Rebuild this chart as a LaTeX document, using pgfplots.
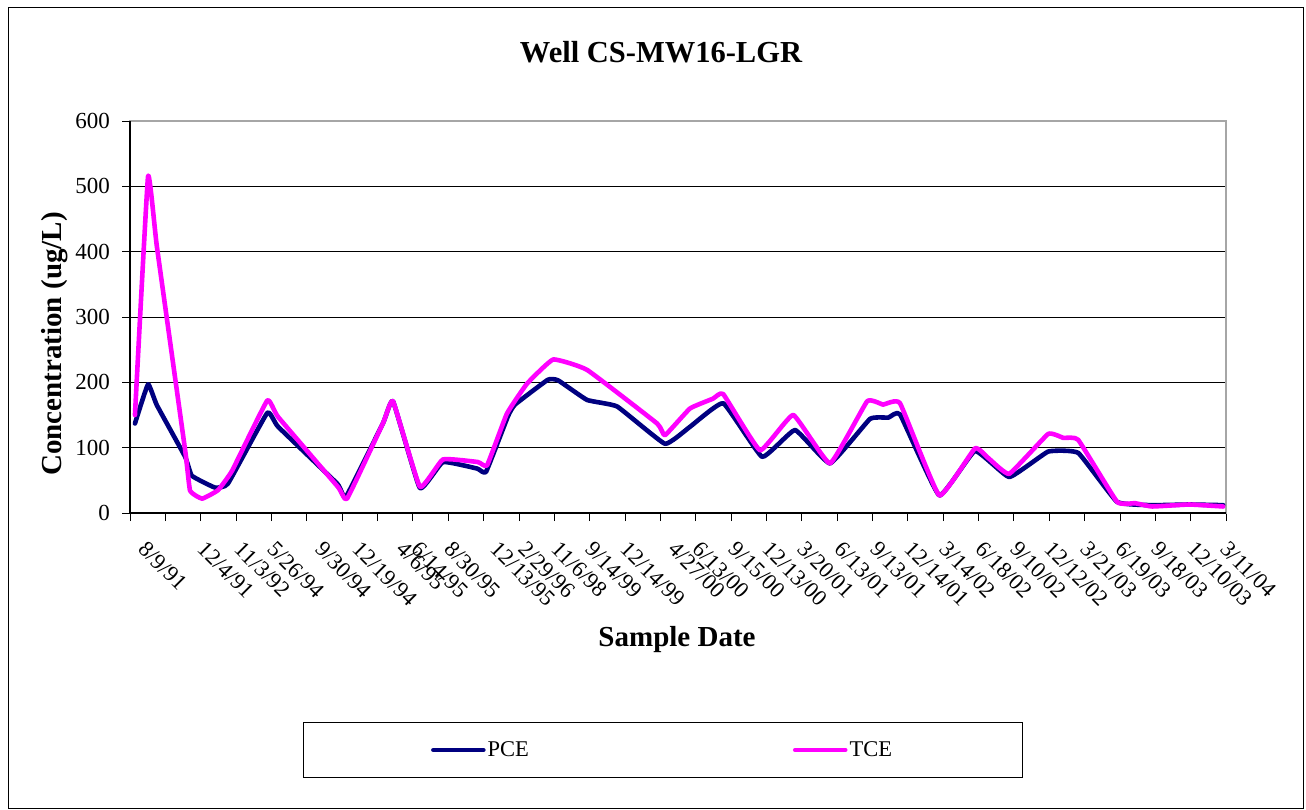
\documentclass[border=0pt]{standalone}
\usepackage{fontspec}
\setmainfont{Liberation Serif}
\usepackage{pgfplots}
\pgfplotsset{compat=1.18}
\definecolor{pcecol}{RGB}{0,0,128}
\definecolor{tcecol}{RGB}{255,0,255}
\begin{document}
\begin{tikzpicture}
\useasboundingbox (0,0) rectangle (1306pt,-810pt);
\fill[white] (0,0) rectangle (1306pt,-810pt);
\draw[black, line width=0.8pt] (8pt,-7pt) rectangle (1303pt,-808pt);
\node[font=\bfseries\fontsize{30.5}{30.5}\selectfont] at (661pt,-52pt) {Well CS-MW16-LGR};
\node[font=\bfseries\fontsize{29}{29}\selectfont, rotate=90] at (55pt,-344pt) {Concentration (ug/L)};
\node[font=\bfseries\fontsize{29}{29}\selectfont] at (677pt,-640pt) {Sample Date};
\begin{axis}[
  at={(130pt,-513pt)}, anchor=south west, scale only axis,
  width=1096pt, height=392pt,
  xmin=0, xmax=31, ymin=0, ymax=600,
  ytick={0,100,...,600},
  ymajorgrids, major grid style={black, line width=0.8pt},
  axis line style={draw=gray!70, line width=1.2pt},
  tick pos=left, tick align=outside,
  major tick length=8pt, minor tick length=8pt,
  every tick/.style={black, line width=0.8pt},
  major x tick style={draw=none},
  minor xtick={0,1,...,31},
  xtick={0.37,2.04,3.08,4.02,5.37,6.42,7.67,8.09,9.02,10.33,11.12,12.05,13.01,14.00,15.36,16.04,17.07,18.02,19.02,20.05,21.07,22.05,23.02,24.05,25.02,25.99,27.02,27.99,29.02,30.05,30.96},
  xticklabels={8/9/91,12/4/91,11/3/92,5/26/94,9/30/94,12/19/94,4/6/95,6/14/95,8/30/95,12/13/95,2/29/96,11/6/98,9/14/99,12/14/99,4/27/00,6/13/00,9/15/00,12/13/00,3/20/01,6/13/01,9/13/01,12/14/01,3/14/02,6/18/02,9/10/02,12/12/02,3/21/03,6/19/03,9/18/03,12/10/03,3/11/04},
  xticklabel style={xshift=5pt, rotate=-45, anchor=north west, inner sep=0pt, font=\fontsize{22.5}{22.5}\selectfont},
  xticklabel shift=19pt,
  yticklabel style={font=\fontsize{23}{23}\selectfont, inner sep=0pt, xshift=-12pt},
  /pgf/number format/assume math mode=true,
  legend columns=2,
  legend style={at={(0.4859,-0.6046)}, anchor=center, draw=black, line width=0.8pt,
    inner xsep=128pt, inner ysep=16pt, font=\fontsize{22.5}{22.5}\selectfont,
    nodes={inner xsep=2pt, inner ysep=3pt},
    /tikz/every even column/.append style={column sep=262pt}},
  legend image code/.code={\draw[#1, line cap=round] (0pt,0pt) -- (50pt,0pt);},
  clip=false,
]
\addplot[pcecol, line width=4.6pt, line join=round, line cap=round, smooth, tension=0.2] coordinates {
(0.14,137) (0.51,197) (0.76,165) (1.56,86) (1.75,57) (2.40,39) (2.77,45) (3.88,153) (4.19,132)
(5.86,45) (6.11,25) (7.16,138) (7.44,171) (8.20,38) (8.85,78) (9.82,68) (10.07,63) (10.69,148)
(10.89,166) (11.82,204) (12.11,203) (12.93,173) (13.78,163) (15.13,106) (15.84,132) (16.78,168)
(17.88,86) (18.81,127) (19.80,76) (20.93,144) (21.45,146) (21.78,151) (22.89,27) (23.90,95)
(24.87,55) (25.97,94) (26.82,92) (27.92,17) (28.91,12) (29.96,13) (30.92,12)
};
\addlegendentry{PCE}
\addplot[tcecol, line width=4.6pt, line join=round, line cap=round, smooth, tension=0.2] coordinates {
(0.14,150) (0.51,515) (0.76,408) (1.56,96) (1.70,34) (2.04,22) (2.49,35) (2.89,65) (3.88,172)
(4.19,147) (5.88,40) (6.14,22) (7.16,138) (7.44,171) (8.20,40) (8.85,82) (9.84,78) (10.10,73)
(10.66,152) (11.23,198) (11.97,235) (12.93,219) (14.91,137) (15.13,119) (15.84,160) (16.49,175)
(16.78,182) (17.82,96) (18.76,150) (19.80,76) (20.85,171) (21.30,166) (21.78,168)
(22.89,27) (23.90,99) (24.30,83) (24.87,60) (25.97,121) (26.40,115) (26.82,112) (27.92,17)
(28.43,15) (28.91,10) (29.96,13) (30.92,10)
};
\addlegendentry{TCE}
\draw[black, line width=1.2pt] (axis cs:0,600) -- (axis cs:0,0) -- (axis cs:31,0);
\end{axis}
\end{tikzpicture}
\end{document}
